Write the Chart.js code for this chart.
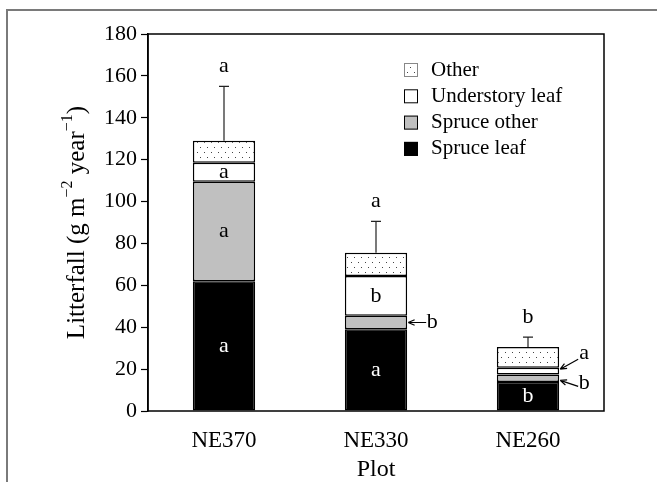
<!DOCTYPE html>
<html>
<head>
<meta charset="utf-8">
<script src="https://cdn.jsdelivr.net/npm/chart.js@4/dist/chart.umd.min.js"></script>
<style>
  body { margin: 0; background: #fff; }
  #wrap { width: 657px; height: 482px; }
</style>
</head>
<body>
<div id="wrap"><canvas id="chart" width="657" height="482"></canvas></div>
<script>
const categories = ['NE370', 'NE330', 'NE260'];
const spruceLeaf = [62, 39, 13.8];
const spruceOther = [47.5, 6.5, 3.6];
const understoryLeaf = [9, 19, 3.2];
const other = [10.5, 11, 10];
const totalSE = [26, 15, 4.7];

const letterSpruceLeaf = ['a', 'a', 'b'];
const letterSpruceOther = ['a', 'b', 'b'];
const letterUnderstory = ['a', 'b', 'a'];
const letterTotal = ['a', 'a', 'b'];

const yMin = 0, yMax = 180, yStep = 20;

const FONT = '"Liberation Serif", "Times New Roman", serif';

// dotted fill for "Other"
function dotPattern() {
    const c = document.createElement('canvas');
    c.width = 7; c.height = 10;
    const g = c.getContext('2d');
    g.fillStyle = '#fff';
    g.fillRect(0, 0, 7, 10);
    g.fillStyle = '#444';
    g.fillRect(1, 2, 1, 1);
    g.fillRect(4, 7, 1, 1);
    return g.createPattern(c, 'repeat');
}

function arrow(ctx, x1, y1, x2, y2) {
    ctx.beginPath();
    ctx.moveTo(x1, y1);
    ctx.lineTo(x2, y2);
    const a = Math.atan2(y2 - y1, x2 - x1);
    const len = 7;
    ctx.moveTo(x2, y2);
    ctx.lineTo(x2 - len * Math.cos(a - 0.4), y2 - len * Math.sin(a - 0.4));
    ctx.moveTo(x2, y2);
    ctx.lineTo(x2 - len * Math.cos(a + 0.4), y2 - len * Math.sin(a + 0.4));
    ctx.stroke();
}

const overlay = {
    id: 'overlay',
    beforeDraw(chart) {
        const ctx = chart.ctx;
        ctx.save();
        ctx.strokeStyle = '#7a7a7a';
        ctx.lineWidth = 2;
        ctx.beginPath();
        ctx.moveTo(657, 10);
        ctx.lineTo(7, 10);
        ctx.lineTo(7, 482);
        ctx.stroke();
        ctx.restore();
    },
    afterDatasetsDraw(chart) {
        const ctx = chart.ctx;
        const y = chart.scales.y;
        ctx.save();
        ctx.font = '22px ' + FONT;
        ctx.textAlign = 'center';
        ctx.textBaseline = 'middle';
        ctx.strokeStyle = '#000';
        ctx.lineWidth = 1.2;

        categories.forEach((cat, i) => {
            const total = spruceLeaf[i] + spruceOther[i] + understoryLeaf[i] + other[i];
            const bx = chart.getDatasetMeta(3).data[i].x;
            const yTop = y.getPixelForValue(total);
            const yErr = y.getPixelForValue(total + totalSE[i]);
            ctx.strokeStyle = '#222';
            ctx.beginPath();
            ctx.moveTo(bx, yTop);
            ctx.lineTo(bx, yErr);
            ctx.moveTo(bx - 5, yErr);
            ctx.lineTo(bx + 5, yErr);
            ctx.stroke();
            ctx.strokeStyle = '#000';
            ctx.fillStyle = '#000';
            ctx.fillText(letterTotal[i], bx, yErr - 20);

            const segLetters = [letterSpruceLeaf, letterSpruceOther, letterUnderstory];
            const outside = [];
            segLetters.forEach((letters, d) => {
                const el = chart.getDatasetMeta(d).data[i];
                const h = el.base - el.y;
                const mid = (el.y + el.base) / 2;
                if (h >= 16) {
                    ctx.fillStyle = d === 0 ? '#fff' : '#000';
                    ctx.fillText(letters[i], el.x, mid);
                } else {
                    outside.push({ t: letters[i], mid, right: el.x + el.width / 2 });
                }
            });
            ctx.fillStyle = '#000';
            if (outside.length === 1) {
                const o = outside[0];
                arrow(ctx, o.right + 19, o.mid, o.right + 1, o.mid);
                ctx.fillText(o.t, o.right + 25, o.mid);
            } else if (outside.length > 1) {
                outside.forEach((o, k) => {
                    const up = k === outside.length - 1;
                    const dy = up ? -12 : 8;
                    arrow(ctx, o.right + 19, o.mid + dy, o.right + 1, o.mid + (up ? -2 : 2));
                    ctx.fillText(o.t, o.right + 25, o.mid + (up ? -18 : 5));
                });
            }
        });
        ctx.restore();
    },
    afterDraw(chart) {
        const ctx = chart.ctx;
        const a = chart.chartArea;
        ctx.save();
        // plot frame
        ctx.strokeStyle = '#000';
        ctx.lineWidth = 1.5;
        ctx.strokeRect(a.left, a.top, a.right - a.left, a.bottom - a.top);

        // legend
        const rows = chart.data.datasets.slice().reverse();
        ctx.font = '21px ' + FONT;
        ctx.textAlign = 'left';
        ctx.textBaseline = 'middle';
        rows.forEach((ds, k) => {
            const cy = 70 + k * 26.3;
            const bx = a.left + 256;
            ctx.fillStyle = ds.backgroundColor;
            ctx.fillRect(bx, cy - 7, 14, 14);
            ctx.lineWidth = 1;
            ctx.strokeStyle = k === 0 ? '#888' : '#000';
            ctx.strokeRect(bx + 0.5, cy - 6.5, 13, 13);
            ctx.fillStyle = '#000';
            ctx.fillText(ds.label, bx + 27, cy);
        });

        // x title
        ctx.font = '24px ' + FONT;
        ctx.textAlign = 'center';
        ctx.fillText('Plot', (a.left + a.right) / 2, 470);

        // y title with superscripts
        const parts = [
            ['Litterfall (g m', false], ['\u22122', true], [' year', false], ['\u22121', true], [')', false]
        ];
        const big = '25px ' + FONT, small = '16px ' + FONT;
        let w = 0;
        parts.forEach(p => { ctx.font = p[1] ? small : big; w += ctx.measureText(p[0]).width; });
        ctx.translate(77, (a.top + a.bottom) / 2);
        ctx.rotate(-Math.PI / 2);
        ctx.textAlign = 'left';
        let x = -w / 2;
        parts.forEach(p => {
            ctx.font = p[1] ? small : big;
            ctx.fillText(p[0], x, p[1] ? -9 : 0);
            x += ctx.measureText(p[0]).width;
        });
        ctx.restore();
    }
};

const pattern = dotPattern();

new Chart(document.getElementById('chart'), {
    type: 'bar',
    data: {
        labels: categories,
        datasets: [
            { label: 'Spruce leaf', data: spruceLeaf, backgroundColor: '#000000' },
            { label: 'Spruce other', data: spruceOther, backgroundColor: '#c0c0c0' },
            { label: 'Understory leaf', data: understoryLeaf, backgroundColor: '#ffffff' },
            { label: 'Other', data: other, backgroundColor: pattern }
        ].map(ds => Object.assign(ds, {
            borderColor: '#000',
            borderWidth: 1.5,
            borderSkipped: false,
            barPercentage: 0.41,
            categoryPercentage: 1
        }))
    },
    options: {
        responsive: false,
        devicePixelRatio: 1,
        animation: false,
        layout: { padding: { top: 34, right: 53, left: 0, bottom: 0 } },
        plugins: { legend: { display: false }, tooltip: { enabled: false } },
        scales: {
            x: {
                stacked: true,
                grid: { display: false },
                border: { display: false },
                ticks: { color: '#000', font: { family: FONT, size: 23 }, padding: 8 },
                afterFit(s) { s.height = 71; }
            },
            y: {
                stacked: true,
                min: yMin,
                max: yMax,
                ticks: { stepSize: yStep, color: '#000', font: { family: FONT, size: 22 }, padding: 4 },
                grid: { drawOnChartArea: false, tickLength: 7, color: '#000', tickWidth: 1.2 },
                border: { color: '#000', width: 1.5 },
                afterFit(s) { s.width = 148; }
            }
        }
    },
    plugins: [overlay]
});
</script>
</body>
</html>
